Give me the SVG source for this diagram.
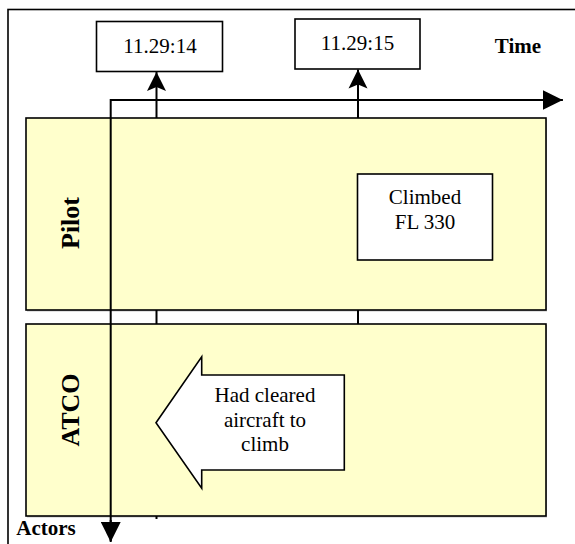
<svg xmlns="http://www.w3.org/2000/svg" width="575" height="544" viewBox="0 0 575 544">
<defs>
<style>
.lane{fill:#FFFFCC;stroke:#000;stroke-width:1.6}
.box{fill:#fff;stroke:#000;stroke-width:1.6}
.ax{fill:none;stroke:#000;stroke-width:2}
.tl{fill:none;stroke:#000;stroke-width:2}
.t{font-family:"Liberation Serif","Times New Roman",serif;font-size:21px;fill:#000;text-anchor:middle}
.b{font-weight:bold}
.lt{font-family:"Liberation Serif","Times New Roman",serif;font-size:26px;font-weight:bold;fill:#000;text-anchor:middle}
</style>
<marker id="tri" markerUnits="userSpaceOnUse" markerWidth="20" markerHeight="20" refX="20" refY="10" orient="auto">
<path d="M0,0 L20,10 L0,20 Z" fill="#000"/>
</marker>
<marker id="notch" markerUnits="userSpaceOnUse" markerWidth="19" markerHeight="20" refX="19" refY="10" orient="auto">
<path d="M0,0.5 L19,10 L0,19.5 L4,10 Z" fill="#000"/>
</marker>
</defs>
<rect x="8" y="9.5" width="620" height="600" fill="#fff" stroke="#000" stroke-width="1.6"/>
<g id="lane-pilot">
<rect x="27" y="119" width="520" height="192.5" fill="#888" opacity="0.5"/>
<rect class="lane" x="26" y="118" width="520" height="192"/>
<text class="lt" transform="translate(79,223) rotate(-90)">Pilot</text>
</g>
<g id="lane-atco">
<rect x="27" y="325" width="520" height="192.5" fill="#888" opacity="0.5"/>
<rect class="lane" x="26" y="324" width="520" height="192"/>
<text class="lt" transform="translate(79,410) rotate(-90)">ATCO</text>
</g>
<g id="connectors">
<line class="tl" x1="156.5" y1="118" x2="156.5" y2="72" marker-end="url(#notch)"/>
<line class="tl" x1="358" y1="118" x2="358" y2="69.5" marker-end="url(#notch)"/>
<line class="tl" x1="156.5" y1="310" x2="156.5" y2="324"/>
<line class="tl" x1="358" y1="310" x2="358" y2="324"/>
<line class="tl" x1="156.5" y1="516" x2="156.5" y2="519"/>
<polyline class="ax" points="110.7,541 110.7,100 562.7,100"/>
<line class="ax" x1="540" y1="100" x2="562.7" y2="100" marker-end="url(#tri)"/>
<line class="ax" x1="110.7" y1="520" x2="110.7" y2="542" marker-end="url(#tri)"/>
</g>
<g id="time-1">
<rect class="box" x="96.5" y="21.5" width="126" height="50"/>
<text class="t" x="160" y="52.5">11.29:14</text>
</g>
<g id="time-2">
<rect class="box" x="295" y="19" width="125" height="50"/>
<text class="t" x="357.5" y="49.5">11.29:15</text>
</g>
<g id="time-label">
<text class="t b" x="518" y="53">Time</text>
</g>
<g id="actors-label">
<text class="t b" x="46" y="535">Actors</text>
</g>
<g id="climbed">
<rect class="box" x="357.5" y="174" width="135" height="86"/>
<text class="t" x="425" y="203.5">Climbed</text>
<text class="t" x="425" y="229">FL 330</text>
</g>
<g id="cleared">
<path class="box" d="M156,422.7 L201.7,356.7 L201.7,375 L344.3,375 L344.3,470 L201.7,470 L201.7,488.3 Z"/>
<text class="t" x="265" y="401.7">Had cleared</text>
<text class="t" x="265" y="427">aircraft to</text>
<text class="t" x="265" y="451">climb</text>
</g>
</svg>
